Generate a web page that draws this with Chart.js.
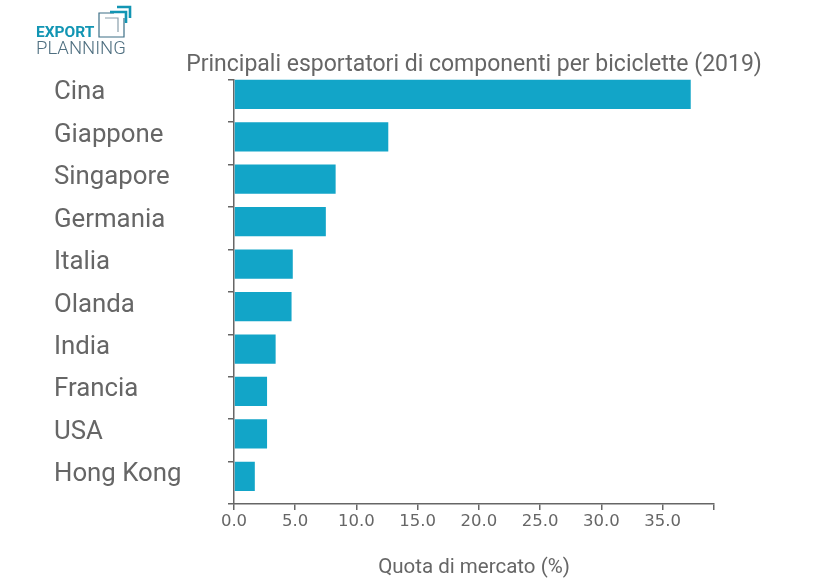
<!DOCTYPE html>
<html>
<head>
<meta charset="utf-8">
<style>
  html, body { margin: 0; padding: 0; background: #fff; }
  #wrap { position: relative; width: 819px; height: 588px; overflow: hidden; }
  #logo { position: absolute; left: 36px; top: 4px; }
</style>
<script src="https://cdn.jsdelivr.net/npm/chart.js@4"></script>
</head>
<body>
<div id="wrap">
  <canvas id="myChart" width="819" height="588"></canvas>
  <svg id="logo" width="100" height="54" viewBox="0 0 100 54">
    <path d="M78 9 H63 V33 H88 V14" fill="none" stroke="#3d6f86" stroke-width="1.2"/>
    <path d="M69 14 H82 V28" fill="none" stroke="#8aa0ac" stroke-width="1.2"/>
    <path d="M74 8 H90 V19 M81 3 H94 V14" fill="none" stroke="#1295b3" stroke-width="2.6"/>
    <text x="0" y="33" font-family="Roboto" font-weight="700" font-size="15.5" fill="#1295b3">EXPORT</text>
    <text x="0" y="50" font-family="Roboto" font-weight="300" font-size="18.5" fill="#4f6f80">PLANNING</text>
  </svg>
</div>
<script>
const countries = ['Cina', 'Giappone', 'Singapore', 'Germania', 'Italia', 'Olanda', 'India', 'Francia', 'USA', 'Hong Kong'];
const shares = [37.3, 12.6, 8.3, 7.5, 4.8, 4.7, 3.4, 2.7, 2.7, 1.7];
const xTicks = [0, 5, 10, 15, 20, 25, 30, 35, 39.2];
const titleText = 'Principali esportatori di componenti per biciclette (2019)';
const xTitleText = 'Quota di mercato (%)';
const textColor = '#666666';
const axisColor = '#666666';

// title is centred on the plot but wider than it
const wideTitle = {
  id: 'wideTitle',
  afterLayout(chart) {
    const mid = (chart.chartArea.left + chart.chartArea.right) / 2;
    chart.titleBlock.left = mid - 320;
    chart.titleBlock.right = mid + 320;
  }
};

// the bars sit at the top of each band in the original, not centred
const shiftBars = {
  id: 'shiftBars',
  beforeDatasetsDraw(chart) {
    chart.ctx.save();
    chart.ctx.translate(0, -6.5);
  },
  afterDatasetsDraw(chart) {
    chart.ctx.restore();
  }
};

const ctx = document.getElementById('myChart').getContext('2d');
new Chart(ctx, {
  type: 'bar',
  data: {
    labels: countries,
    datasets: [{
      data: shares,
      backgroundColor: '#12a5c8',
      barPercentage: 0.69,
      categoryPercentage: 1
    }]
  },
  options: {
    indexAxis: 'y',
    responsive: false,
    animation: false,
    layout: { padding: { left: 54, right: 105, top: 6, bottom: 7.5 } },
    plugins: {
      legend: { display: false },
      tooltip: { enabled: false },
      title: {
        display: true,
        text: titleText,
        fullSize: false,
        color: textColor,
        font: { family: 'Roboto', size: 23, weight: 'normal' },
        padding: { top: 45, bottom: 1 }
      }
    },
    scales: {
      x: {
        min: 0,
        max: 39.2,
        afterBuildTicks: (scale) => { scale.ticks = xTicks.map((value) => ({ value })); },
        grid: { drawOnChartArea: false, color: axisColor, lineWidth: 1.5, tickLength: 6 },
        border: { color: axisColor, width: 1.5 },
        ticks: {
          autoSkip: false,
          maxRotation: 0,
          color: textColor,
          padding: 2,
          font: { family: 'DejaVu Sans', size: 16.5 },
          callback: (value) => (value % 5 === 0 ? value.toFixed(1) : '')
        },
        title: {
          display: true,
          text: xTitleText,
          color: textColor,
          font: { family: 'Roboto', size: 20.5 },
          padding: { top: 22, bottom: 0 }
        }
      },
      y: {
        afterFit: (scale) => { scale.width = 180; },
        grid: { drawOnChartArea: false, color: axisColor, lineWidth: 1.5, tickLength: 6 },
        border: { color: axisColor, width: 1.5 },
        ticks: {
          autoSkip: false,
          crossAlign: 'far',
          labelOffset: -8,
          color: textColor,
          font: { family: 'Roboto', size: 25.8 }
        }
      }
    }
  },
  plugins: [wideTitle, shiftBars]
});
</script>
</body>
</html>
